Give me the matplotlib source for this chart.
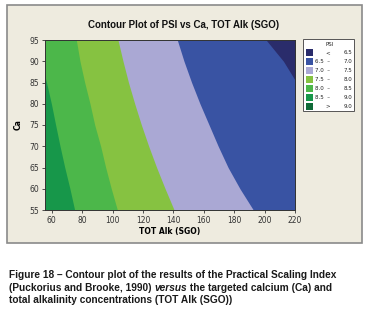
import matplotlib
matplotlib.use("Agg")
import matplotlib.pyplot as plt
from matplotlib.patches import Rectangle

# Ca values and the TOT Alk (SGO) position of each PSI contour line
ca = [55, 60, 65, 70, 75, 80, 85, 90, 95]
tot_psi85 = [75.1, 72.0, 68.6, 65.5, 62.6, 59.8, 56.6, 53.0, 50.0]
tot_psi80 = [103.2, 99.2, 95.5, 92.2, 88.3, 85.2, 81.7, 78.6, 76.2]
tot_psi75 = [140.5, 134.6, 129.0, 123.8, 119.0, 114.6, 110.5, 106.9, 103.6]
tot_psi70 = [192.6, 183.8, 176.0, 169.5, 163.5, 157.5, 152.0, 147.0, 142.6]
tot_psi65 = [280.0, 268.0, 256.0, 245.0, 236.0, 229.0, 221.0, 212.4, 201.0]

legend_labels = [("<", "6.5"), ("6.5  \u2013", "7.0"), ("7.0  \u2013", "7.5"), ("7.5  \u2013", "8.0"),
                 ("8.0  \u2013", "8.5"), ("8.5  \u2013", "9.0"), (">", "9.0")]
colors = ["#2a2c6b", "#3953a3", "#aaa8d4", "#86c241", "#4cb74a", "#17974a", "#0f6a37"]

W, H = 369, 314
XMIN, XMAX = 55.6, 220


def fx(x):
    return x / W


def fy(y):
    return 1 - y / H


def draw_chart():
    fig = plt.figure(figsize=(W / 100, H / 100), dpi=100)
    fig.patch.set_facecolor("white")

    # beige panel behind the chart
    fig.patches.append(Rectangle((fx(7), fy(243)), fx(355), 238 / H, transform=fig.transFigure,
                                 facecolor="#eeebdf", edgecolor="#8a8a8a", linewidth=1.2, zorder=-5))

    ax = fig.add_axes([fx(45), fy(210), fx(250), 170 / H])
    ax.set_zorder(2)

    # each band is filled from its contour line to the right edge, later bands on top
    ax.fill_betweenx(ca, XMIN, XMAX, color=colors[5], lw=0)
    for edge, col in zip([tot_psi85, tot_psi80, tot_psi75, tot_psi70, tot_psi65],
                         [colors[4], colors[3], colors[2], colors[1], colors[0]]):
        ax.fill_betweenx(ca, edge, XMAX, color=col, lw=0)

    ax.set_xlim(XMIN, XMAX)
    ax.set_ylim(55, 95)
    ax.set_xticks(range(60, 221, 20))
    ax.set_yticks(range(55, 96, 5))
    ax.tick_params(labelsize=5.5, length=2.5, width=0.6, colors="#333333", pad=1.5)
    for s in ax.spines.values():
        s.set_linewidth(0.7)
        s.set_color("#333333")
    ax.set_xlabel("TOT Alk (SGO)", fontsize=5.5, fontweight="bold", labelpad=2)
    ax.set_ylabel("Ca", fontsize=5.5, fontweight="bold", labelpad=5)

    fig.text(fx(184), fy(25), "Contour Plot of PSI vs Ca, TOT Alk (SGO)", fontsize=7,
             fontweight="bold", family="Liberation Sans", ha="center", va="center", color="#111111")

    # legend box
    fig.patches.append(Rectangle((fx(303), fy(111)), fx(51), 72 / H, transform=fig.transFigure,
                                 facecolor="white", edgecolor="#555555", linewidth=0.7, zorder=1))
    fig.text(fx(330), fy(44), "PSI", fontsize=4, ha="center", va="center", color="#222222", zorder=3)
    for i, (col, (a, b)) in enumerate(zip(colors, legend_labels)):
        yc = 52.7 + i * 8.9
        fig.patches.append(Rectangle((fx(306), fy(yc + 3.5)), fx(7), 7 / H, transform=fig.transFigure,
                                     facecolor=col, edgecolor="none", zorder=2))
        fig.text(fx(330), fy(yc), a, fontsize=4, ha="right", va="center", color="#222222", zorder=3)
        fig.text(fx(352), fy(yc), b, fontsize=4, ha="right", va="center", color="#222222", zorder=3)

    # caption
    kw = dict(fontsize=7.3, fontweight="bold", family="Liberation Sans", color="#1a1a1a")
    fig.text(fx(9), fy(275), "Figure 18 \u2013 Contour plot of the results of the Practical Scaling Index",
             va="center", ha="left", **kw)
    t1 = fig.text(fx(9), fy(288), "(Puckorius and Brooke, 1990) ", va="center", ha="left", **kw)
    t2 = plt.annotate("versus", xy=(1, 0), xycoords=t1, va="bottom", ha="left", style="italic",
                      annotation_clip=False, **kw)
    plt.annotate(" the targeted calcium (Ca) and", xy=(1, 0), xycoords=t2, va="bottom", ha="left",
                 annotation_clip=False, **kw)
    fig.text(fx(9), fy(300), "total alkalinity concentrations (TOT Alk (SGO))", va="center", ha="left", **kw)

    fig.savefig("out.png", dpi=100)
    plt.close(fig)


if __name__ == "__main__":
    draw_chart()
